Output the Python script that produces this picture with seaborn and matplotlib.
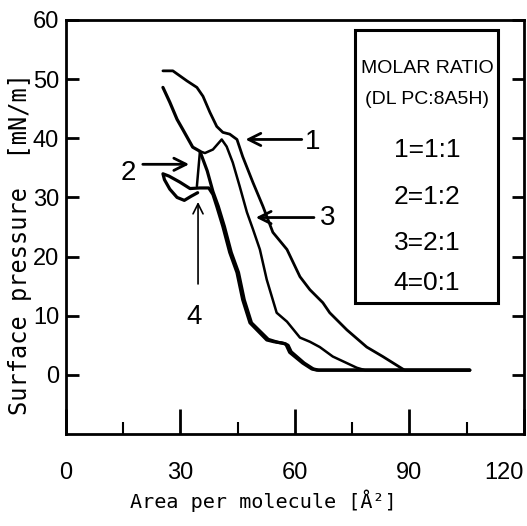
import matplotlib
matplotlib.use("Agg")
import matplotlib.pyplot as plt
import seaborn as sns
from matplotlib.patches import Rectangle

# valores (isotermas pi-A)
c1_x = [105.8, 88.7, 83.0, 78.8, 73.6, 69.1, 67.3, 63.9, 61.3, 57.9, 54.2, 51.6, 49.0,
        46.3, 44.8, 42.9, 41.1, 39.5, 37.7, 35.9, 34.3, 31.7, 28.0, 25.4]
c1_y = [0.8, 0.8, 3.1, 4.7, 7.6, 10.5, 12.2, 14.4, 16.6, 21.2, 24.1, 28.5, 32.5,
        36.9, 39.8, 40.7, 41.0, 42.0, 44.4, 47.1, 48.6, 49.7, 51.4, 51.4]

c2_x = [105.8, 66.2, 64.8, 62.4, 59.0, 58.2, 57.2, 55.5, 53.0, 48.6, 46.7, 45.2, 43.3,
        41.5, 39.9, 38.5, 37.0, 35.1, 33.2, 30.6, 29.1, 27.2, 25.4]
c2_y = [0.8, 0.8, 1.0, 2.0, 3.9, 5.0, 5.3, 5.5, 6.0, 8.8, 12.7, 17.3, 20.7,
        25.1, 28.5, 31.0, 34.5, 37.8, 38.5, 41.5, 43.2, 46.1, 48.6]

c3_x = [105.8, 78.3, 76.2, 69.9, 66.5, 63.9, 61.3, 57.9, 55.2, 52.6, 50.8, 49.0, 47.4,
        45.5, 43.7, 42.1, 40.8, 38.5, 36.4, 35.1, 34.3]
c3_y = [0.8, 0.8, 1.2, 3.1, 4.7, 5.6, 6.3, 9.0, 10.5, 16.1, 21.2, 24.6, 27.5,
        31.9, 35.9, 38.6, 39.8, 38.1, 37.5, 37.8, 31.9]

c4_x = [105.8, 65.7, 64.4, 62.0, 58.6, 57.6, 56.5, 54.5, 52.6, 48.2, 46.3, 44.8, 42.9,
        41.1, 39.5, 38.5, 37.4, 35.0, 32.5, 29.8, 27.0, 25.4, 25.8, 27.2, 29.1, 31.0,
        32.8, 34.5]
c4_y = [0.8, 0.8, 1.0, 2.0, 3.8, 5.2, 5.4, 5.6, 5.9, 8.8, 12.7, 17.3, 20.7,
        25.1, 28.5, 30.5, 31.6, 31.6, 31.5, 32.6, 33.6, 34.0, 33.0, 31.4, 30.0, 29.5,
        30.2, 30.8]

curvas = [(c1_x, c1_y, 2.0), (c2_x, c2_y, 2.3), (c3_x, c3_y, 1.8), (c4_x, c4_y, 2.3)]

legenda = ["MOLAR RATIO", "(DL PC:8A5H)", "1=1:1", "2=1:2", "3=2:1", "4=0:1"]

xticks = [0, 30, 60, 90, 120]
xminor = [15, 45, 75, 105]
yticks = [0, 10, 20, 30, 40, 50, 60]

sns.set_theme(style="ticks")
plt.rcParams['font.family'] = ['Liberation Sans', 'DejaVu Sans']
plt.rcParams['text.color'] = 'black'
plt.rcParams['axes.labelcolor'] = 'black'
plt.rcParams['xtick.color'] = 'black'
plt.rcParams['ytick.color'] = 'black'

fig = plt.figure(figsize=(5.27, 5.26), dpi=100)
ax = fig.add_axes([0.1252, 0.1749, 0.8691, 0.7871])

for xs, ys, lw in curvas:
    sns.lineplot(x=xs, y=ys, sort=False, estimator=None, color="black",
                 linewidth=lw, ax=ax)

ax.set_xlim(0, 120)
ax.set_ylim(-10, 60)
ax.set_xticks(xticks)
ax.set_xticks(xminor, minor=True)
ax.set_yticks(yticks)
ax.tick_params(axis="x", which="major", direction="in", length=18, width=2,
               pad=20, labelsize=17, color="black", labelcolor="black")
ax.tick_params(axis="x", which="minor", direction="in", length=9, width=1.5)
ax.tick_params(axis="y", which="major", direction="in", length=9, width=2,
               pad=5, labelsize=17, right=True, labelcolor="black")
ax.get_xticklabels()[-1].set_ha("right")
for s in ax.spines.values():
    s.set_linewidth(2)
    s.set_color("black")

ax.set_xlabel("Area per molecule [Å²]", family="DejaVu Sans Mono", fontsize=14.5)
ax.xaxis.set_label_coords(0.432, -0.135)
ax.set_ylabel("Surface pressure  [mN/m]", family="DejaVu Sans Mono", fontsize=17)
ax.yaxis.set_label_coords(-0.074, 0.459)

# caixa da razão molar
ax.add_patch(Rectangle((0.631, 0.316), 0.312, 0.66, transform=ax.transAxes,
                       fill=False, lw=2.2, color="black"))
ys_leg = [0.884, 0.807, 0.686, 0.572, 0.461, 0.365]
tam = [14, 14, 19, 19, 19, 19]
for t, yy, fs in zip(legenda, ys_leg, tam):
    ax.text(0.788, yy, t, transform=ax.transAxes, ha="center", va="center",
            fontsize=fs, color="black")

# setas com rótulos
seta = dict(arrowstyle="->", lw=2, color="black", mutation_scale=22)
ax.annotate("", xy=(46.3, 39.8), xytext=(62.5, 39.8), arrowprops=seta)
ax.text(64.5, 39.3, "1", ha="center", va="center", fontsize=20)
ax.annotate("", xy=(49.0, 26.6), xytext=(65.7, 26.6), arrowprops=seta)
ax.text(68.6, 26.6, "3", ha="center", va="center", fontsize=20)
ax.annotate("", xy=(33.0, 35.6), xytext=(19.4, 35.6), arrowprops=seta)
ax.text(16.2, 34.2, "2", ha="center", va="center", fontsize=20)
ax.annotate("", xy=(34.6, 29.7), xytext=(34.6, 14.9),
            arrowprops=dict(arrowstyle="->", lw=1.2, color="black", mutation_scale=18))
ax.text(33.6, 9.8, "4", ha="center", va="center", fontsize=20)

plt.savefig("out.png", dpi=100)
